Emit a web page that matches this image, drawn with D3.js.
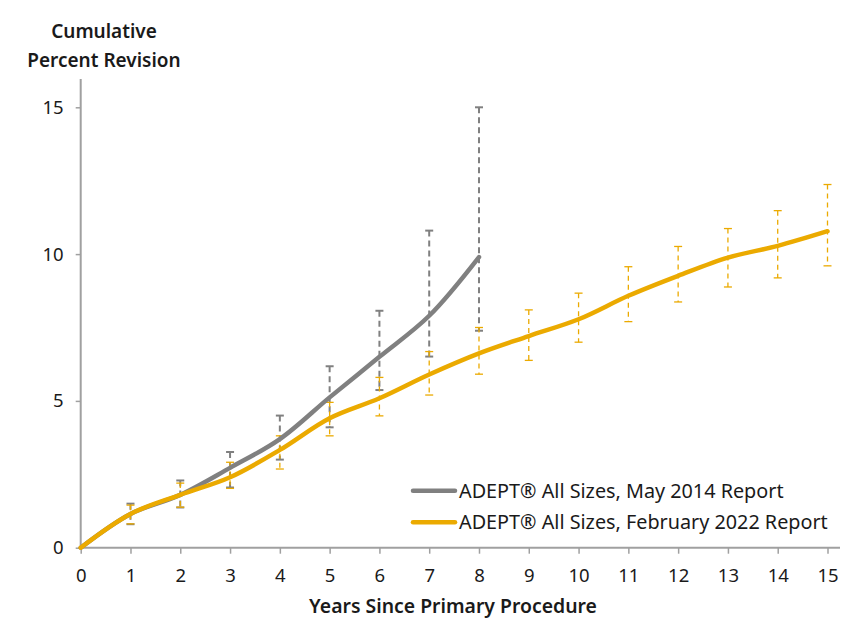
<!DOCTYPE html>
<html><head><meta charset="utf-8">
<script src="https://cdn.jsdelivr.net/npm/d3@7"></script>
<style>body{margin:0;background:#fff;} svg{display:block;font-family:"Noto Sans","Open Sans",sans-serif;}</style>
</head><body><svg id="c" width="863" height="629"></svg>
<script>
const years2014 = [0,1,2,3,4,5,6,7,8];
const value2014 = [0,1.15,1.8,2.72,3.7,5.12,6.5,7.9,9.9];
const high2014 = [null,1.5,2.29,3.26,4.5,6.18,8.07,10.8,15.0];
const low2014  = [null,0.8,1.37,2.05,3.0,4.1,5.37,6.51,7.39];

const years2022 = [0,1,2,3,4,5,6,7,8,9,10,11,12,13,14,15];
const value2022 = [0,1.15,1.8,2.4,3.33,4.41,5.09,5.9,6.62,7.21,7.78,8.58,9.26,9.88,10.28,10.78];
const high2022 = [null,1.45,2.2,2.91,3.81,4.95,5.8,6.68,7.5,8.1,8.67,9.57,10.26,10.87,11.48,12.37];
const low2022  = [null,0.81,1.38,2.02,2.68,3.81,4.49,5.2,5.91,6.38,7.0,7.7,8.37,8.88,9.19,9.6];

const xTicks = d3.range(0,16);
const yTicks = [0,5,10,15];
const seriesNames = ["ADEPT\u00AE All Sizes, May 2014 Report","ADEPT\u00AE All Sizes, February 2022 Report"];
const yTitle = ["Cumulative","Percent Revision"];
const xTitle = "Years Since Primary Procedure";

const GRAY = "#808080", GOLD = "#EBAA00", AXIS = "#a0a0a0";
const svg = d3.select("#c");
const x = d3.scaleLinear().domain([0,15]).range([80.7,827.5]);
const y = d3.scaleLinear().domain([0,15]).range([547.7,107.3]);

// axes
const xa = svg.append("g").attr("transform","translate(0,547.7)")
  .call(d3.axisBottom(x).tickValues(xTicks).tickSize(6).tickPadding(15).tickFormat(d3.format("d")));
xa.select(".domain").attr("d","M80.7,0H840");
const ya = svg.append("g").attr("transform","translate(80.7,0)")
  .call(d3.axisLeft(y).tickValues(yTicks).tickSize(5).tickPadding(12));
ya.select(".domain").attr("d","M0,547.7V79");
svg.selectAll(".domain").attr("stroke",AXIS).attr("stroke-width",2);
svg.selectAll(".tick line").attr("stroke",AXIS).attr("stroke-width",1.5);
svg.selectAll(".tick text").attr("fill","#1a1a1a").attr("font-size",18.5).attr("font-family","Noto Sans");

// titles
svg.append("text").attr("x",104).attr("y",38).attr("text-anchor","middle").attr("font-size",19).attr("font-weight",600).attr("fill","#1a1a1a").text(yTitle[0]);
svg.append("text").attr("x",104).attr("y",67).attr("text-anchor","middle").attr("font-size",19).attr("font-weight",600).attr("fill","#1a1a1a").text(yTitle[1]);
svg.append("text").attr("x",453).attr("y",613).attr("text-anchor","middle").attr("font-size",19.4).attr("font-weight",600).attr("fill","#1a1a1a").text(xTitle);

function errorBars(years, hi, lo, color, w, dash, capW){
  const g = svg.append("g");
  years.forEach((yr,i)=>{
    if(hi[i]==null) return;
    g.append("line").attr("x1",x(yr)).attr("x2",x(yr)).attr("y1",y(hi[i])).attr("y2",y(lo[i]))
      .attr("stroke",color).attr("stroke-width",w).attr("stroke-dasharray",dash);
    [hi[i],lo[i]].forEach(v=>g.append("line").attr("x1",x(yr)-capW/2).attr("x2",x(yr)+capW/2)
      .attr("y1",y(v)).attr("y2",y(v)).attr("stroke",color).attr("stroke-width",w));
  });
}
errorBars(years2014, high2014, low2014, GRAY, 2, "6,4", 8);
errorBars(years2022, high2022, low2022, GOLD, 1.3, "5,4", 8);

const line = d3.line().x(d=>x(d[0])).y(d=>y(d[1])).curve(d3.curveCatmullRom.alpha(0.5));
svg.append("path").datum(years2014.map((v,i)=>[v,value2014[i]])).attr("d",line)
  .attr("fill","none").attr("stroke",GRAY).attr("stroke-width",4.5).attr("stroke-linecap","round");
svg.append("path").datum(years2022.map((v,i)=>[v,value2022[i]])).attr("d",line)
  .attr("fill","none").attr("stroke",GOLD).attr("stroke-width",4.5).attr("stroke-linecap","round");

// legend
const lg = svg.append("g");
[[GRAY,490.7],[GOLD,522.3]].forEach((c,i)=>{
  lg.append("line").attr("x1",413).attr("x2",455).attr("y1",c[1]).attr("y2",c[1]).attr("stroke",c[0]).attr("stroke-width",4.5).attr("stroke-linecap","round");
  lg.append("text").attr("x",459).attr("y",c[1]+7).attr("font-size",19.8).attr("fill","#1a1a1a").text(seriesNames[i]);
});
</script></body></html>
